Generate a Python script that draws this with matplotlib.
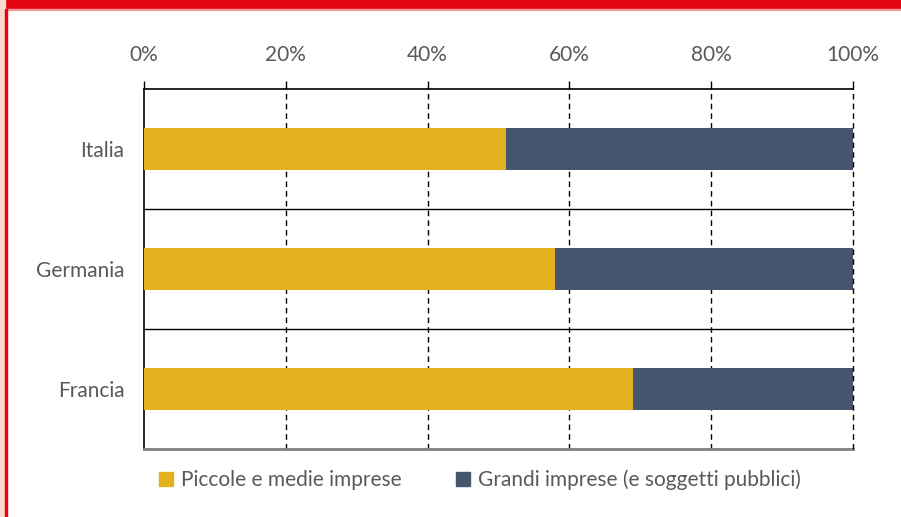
import matplotlib
matplotlib.use("Agg")
import matplotlib.pyplot as plt
from matplotlib.patches import Rectangle, Patch

plt.rcParams['font.family'] = ['Lato', 'DejaVu Sans']

categories = ["Italia", "Germania", "Francia"]
pmi = [0.51, 0.58, 0.69]
grandi = [0.49, 0.42, 0.31]
series_labels = ["Piccole e medie imprese", "Grandi imprese (e soggetti pubblici)"]
xticks = [0, 0.2, 0.4, 0.6, 0.8, 1.0]
xticklabels = ["0%", "20%", "40%", "60%", "80%", "100%"]

c_pmi = "#E3B11E"
c_gr = "#46566F"
txt = "#595959"

W, H = 901, 517
fig = plt.figure(figsize=(W/100, H/100), dpi=100)

# decorative frame
fig.patches.append(Rectangle((0, 1 - 9/H), 1, 9/H, transform=fig.transFigure,
                             color="#E30613", zorder=0))
fig.patches.append(Rectangle((0, 1 - 10/H), 1, 1/H, transform=fig.transFigure,
                             color="#F39A9A", zorder=0))
fig.patches.append(Rectangle((0, 0), 5/W, 1, transform=fig.transFigure,
                             color="#F9DACD", zorder=0))
fig.patches.append(Rectangle((5/W, 0), 2/W, 1 - 9/H, transform=fig.transFigure,
                             color="#E30613", zorder=0))

ax = fig.add_axes([144/W, 1 - 449/H, (853-144)/W, (449-89)/H])
y = list(range(len(categories)))
ax.barh(y, pmi, height=0.35, color=c_pmi, zorder=3)
ax.barh(y, grandi, left=pmi, height=0.35, color=c_gr, zorder=3)

ax.set_xlim(0, 1)
ax.set_ylim(len(categories) - 0.5, -0.5)

for xv in xticks[1:]:
    ax.axvline(xv, color="black", lw=1, ls=(0, (4, 3)), zorder=4 if xv == 1.0 else 1,
               clip_on=False)
for sep in [0.5, 1.5]:
    ax.axhline(sep, color="black", lw=1, zorder=2)

ax.xaxis.tick_top()
ax.set_xticks(xticks)
ax.set_xticklabels(xticklabels, fontsize=15, color=txt)
ax.tick_params(axis='x', direction='out', length=6, width=1, color="black", pad=11)
ax.set_yticks(y)
ax.set_yticklabels(categories, fontsize=15, color=txt)
ax.tick_params(axis='y', length=0, pad=14)

for s in ['top', 'left']:
    ax.spines[s].set_color("black")
    ax.spines[s].set_linewidth(1.2)
ax.spines['right'].set_visible(False)
ax.spines['bottom'].set_color("#808080")
ax.spines['bottom'].set_linewidth(2)

handles = [Patch(color=c_pmi), Patch(color=c_gr)]
fig.legend(handles, series_labels, loc='center', bbox_to_anchor=(480/W, 1 - 480/H),
           ncol=2, frameon=False, fontsize=15, labelcolor=txt,
           handlelength=0.65, handleheight=0.65, handletextpad=0.4, columnspacing=2.6)

fig.savefig("out.png", dpi=100)
